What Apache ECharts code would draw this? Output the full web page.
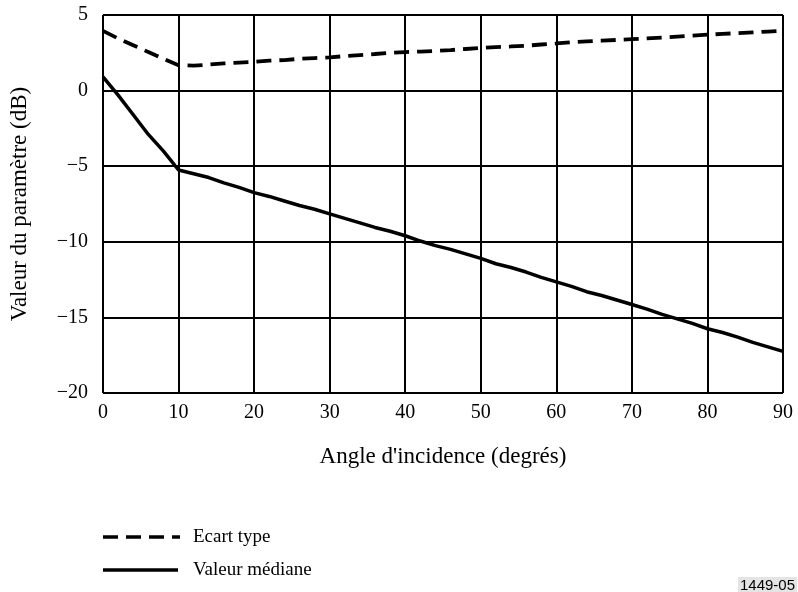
<!DOCTYPE html>
<html><head><meta charset="utf-8">
<script src="https://cdn.jsdelivr.net/npm/echarts@6/dist/echarts.min.js"></script>
<style>html,body{margin:0;padding:0;background:#fff}#c{width:798px;height:592px}</style>
</head><body><div id="c"></div>
<script>
const angles = [0,2,4,6,8,10,12,14,16,18,20,22,24,26,28,30,32,34,36,38,40,42,44,46,48,50,52,54,56,58,60,62,64,66,68,70,72,74,76,78,80,82,84,86,88,90];
const ecartType = [3.95,3.45,3.0,2.55,2.1,1.68,1.65,1.72,1.8,1.85,1.9,1.98,2.02,2.1,2.15,2.2,2.28,2.35,2.42,2.5,2.55,2.58,2.62,2.68,2.75,2.82,2.88,2.92,2.97,3.05,3.12,3.2,3.25,3.3,3.35,3.4,3.45,3.5,3.57,3.63,3.7,3.75,3.8,3.85,3.9,3.95];
const valeurMediane = [0.9,-0.3,-1.6,-2.9,-4.0,-5.25,-5.5,-5.75,-6.1,-6.4,-6.75,-7.0,-7.3,-7.6,-7.85,-8.15,-8.45,-8.75,-9.05,-9.3,-9.6,-9.95,-10.25,-10.5,-10.8,-11.1,-11.45,-11.7,-12.0,-12.35,-12.65,-12.95,-13.3,-13.55,-13.85,-14.15,-14.45,-14.8,-15.1,-15.4,-15.75,-16.0,-16.3,-16.65,-16.95,-17.25];
const seriesNames = ['Ecart type','Valeur médiane'];
const xName = "Angle d'incidence (degrés)";
const yName = 'Valeur du paramètre (dB)';
const figId = '1449-05';

const font = '"Liberation Serif","Times New Roman",serif';
const chart = echarts.init(document.getElementById('c'), null, {renderer:'canvas'});
const dash = [15,8];
chart.setOption({
  animation:false,
  backgroundColor:'#fff',
  grid:{left:102, right:15, top:15, bottom:199, show:true, borderColor:'#444', borderWidth:1},
  xAxis:{type:'value', min:0, max:90, interval:10,
    name:xName, nameLocation:'middle', nameGap:52,
    nameTextStyle:{fontFamily:font, fontSize:23, color:'#000'},
    axisLine:{show:false}, axisTick:{show:false},
    axisLabel:{fontFamily:font, fontSize:20, color:'#000', margin:10},
    splitLine:{lineStyle:{color:'#000', width:2}}},
  yAxis:{type:'value', min:-20, max:5, interval:5,
    name:yName, nameLocation:'middle', nameGap:72, nameRotate:90,
    nameTextStyle:{fontFamily:font, fontSize:23, color:'#000'},
    axisLine:{show:false}, axisTick:{show:false},
    axisLabel:{fontFamily:font, fontSize:20, color:'#000', margin:15, padding:[4,0,0,0],
      formatter:v=> v<0 ? '\u2212'+Math.abs(v) : String(v)},
    splitLine:{lineStyle:{color:'#000', width:2}}},
  series:[
    {name:seriesNames[0], type:'line', data:angles.map((a,i)=>[a,ecartType[i]]), showSymbol:false, symbol:'none',
      lineStyle:{color:'#000', width:3.8, type:dash}},
    {name:seriesNames[1], type:'line', data:angles.map((a,i)=>[a,valeurMediane[i]]), showSymbol:false, symbol:'none',
      lineStyle:{color:'#000', width:3.5}}
  ],
  graphic:[
    {type:'line', shape:{x1:103, y1:537, x2:180, y2:537}, style:{stroke:'#000', lineWidth:3.5, lineDash:dash}},
    {type:'text', left:193, top:528, style:{text:seriesNames[0], fontFamily:font, fontSize:19, fill:'#000'}},
    {type:'line', shape:{x1:103, y1:570, x2:178, y2:570}, style:{stroke:'#000', lineWidth:3.5}},
    {type:'text', left:193, top:561, style:{text:seriesNames[1], fontFamily:font, fontSize:19, fill:'#000'}},
    {type:'text', left:738, top:577, style:{text:figId, fontFamily:'"Liberation Sans",Arial,sans-serif', fontSize:15, fill:'#000', backgroundColor:'#e4e4e4', padding:[1,2]}}
  ]
});
</script></body></html>
